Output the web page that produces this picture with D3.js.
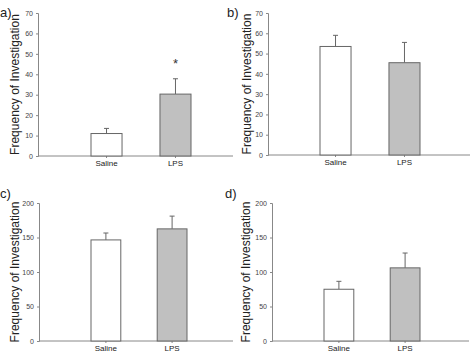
<!DOCTYPE html>
<html>
<head>
<meta charset="utf-8">
<script src="https://d3js.org/d3.v7.min.js"></script>
<style>
  body { margin: 0; background: #fff; }
  svg { font-family: "Liberation Sans", Arial, sans-serif; }
</style>
</head>
<body>
<div id="chart"></div>
<script>
// data
const categories = ["Saline", "LPS"];
const panelLabels = ["a)", "b)", "c)", "d)"];
const means = [[11, 30.3], [53.5, 45.5], [146.5, 162.5], [75, 106]];
const errors = [[2.5, 7.5], [5.5, 10], [10, 18.5], [11.5, 21.5]];
const yMax = [70, 70, 200, 200];
const tickStep = [10, 10, 50, 50];
const starred = [[false, true], [false, false], [false, false], [false, false]];
const yTitle = "Frequency of Investigation";

const width = 474, height = 353;
const fills = ["#ffffff", "#c0c0c0"];

// layout of each panel (pixel boxes)
const layout = [
  { axisX: 38, right: 233, top: 13, bottom: 156, bars: [91, 191], titleX: 15, tag: [0, 17] },
  { axisX: 268, right: 470, top: 13, bottom: 155, bars: [320, 420], titleX: 247, tag: [227, 17] },
  { axisX: 39, right: 233, top: 203, bottom: 341, bars: [91, 187], titleX: 15, tag: [0, 198] },
  { axisX: 272, right: 469, top: 203, bottom: 341, bars: [324, 420], titleX: 246, tag: [225, 198] }
];

const svg = d3.select("#chart").append("svg")
  .attr("width", width)
  .attr("height", height);

layout.forEach((L, i) => {
  const g = svg.append("g");

  const y = d3.scaleLinear().domain([0, yMax[i]]).range([L.bottom, L.top]);
  const x = d3.scaleBand().domain(categories).range(L.bars).paddingInner(0.55).paddingOuter(0);

  // y axis
  const yAxis = g.append("g")
    .attr("transform", `translate(${L.axisX},0)`)
    .call(d3.axisLeft(y).tickValues(d3.range(0, yMax[i] + 1, tickStep[i])).tickSize(2).tickPadding(3));
  yAxis.select(".domain").attr("stroke", "#888");
  yAxis.selectAll(".tick line").attr("stroke", "#888");
  yAxis.selectAll("text").attr("fill", "#444").style("font-size", "7px");

  // x axis line
  g.append("line")
    .attr("x1", L.axisX).attr("x2", L.right)
    .attr("y1", L.bottom).attr("y2", L.bottom)
    .attr("stroke", "#888");

  const xAxis = g.append("g")
    .attr("transform", `translate(0,${L.bottom})`)
    .call(d3.axisBottom(x).tickSize(2).tickPadding(2));
  xAxis.select(".domain").remove();
  xAxis.selectAll(".tick line").attr("stroke", "#888");
  xAxis.selectAll("text").attr("fill", "#222").style("font-size", "8px");

  const rows = categories.map((c, j) => ({ c, j, v: means[i][j], e: errors[i][j], s: starred[i][j] }));

  // error bars (upper half only)
  g.selectAll(".err").data(rows).join("line")
    .attr("x1", d => x(d.c) + x.bandwidth() / 2)
    .attr("x2", d => x(d.c) + x.bandwidth() / 2)
    .attr("y1", d => y(d.v))
    .attr("y2", d => y(d.v + d.e))
    .attr("stroke", "#666");
  g.selectAll(".cap").data(rows).join("line")
    .attr("x1", d => x(d.c) + x.bandwidth() / 2 - 2.5)
    .attr("x2", d => x(d.c) + x.bandwidth() / 2 + 2.5)
    .attr("y1", d => y(d.v + d.e))
    .attr("y2", d => y(d.v + d.e))
    .attr("stroke", "#666");

  // bars
  g.selectAll("rect").data(rows).join("rect")
    .attr("x", d => x(d.c))
    .attr("y", d => y(d.v))
    .attr("width", x.bandwidth())
    .attr("height", d => y(0) - y(d.v))
    .attr("fill", d => fills[d.j])
    .attr("stroke", "#666");

  // significance star
  g.selectAll(".star").data(rows.filter(d => d.s)).join("text")
    .attr("x", d => x(d.c) + x.bandwidth() / 2)
    .attr("y", d => y(d.v + d.e) - 11)
    .attr("text-anchor", "middle")
    .attr("fill", "#333")
    .style("font-size", "13px")
    .text("*");

  // y title
  g.append("text")
    .attr("transform", `translate(${L.titleX},${(L.top + L.bottom) / 2}) rotate(-90)`)
    .attr("text-anchor", "middle")
    .attr("dy", "0.35em")
    .attr("fill", "#222")
    .style("font-size", "12px")
    .text(yTitle);

  // panel tag
  g.append("text")
    .attr("x", L.tag[0]).attr("y", L.tag[1])
    .attr("fill", "#222")
    .style("font-size", "13px")
    .text(panelLabels[i]);
});
</script>
</body>
</html>
